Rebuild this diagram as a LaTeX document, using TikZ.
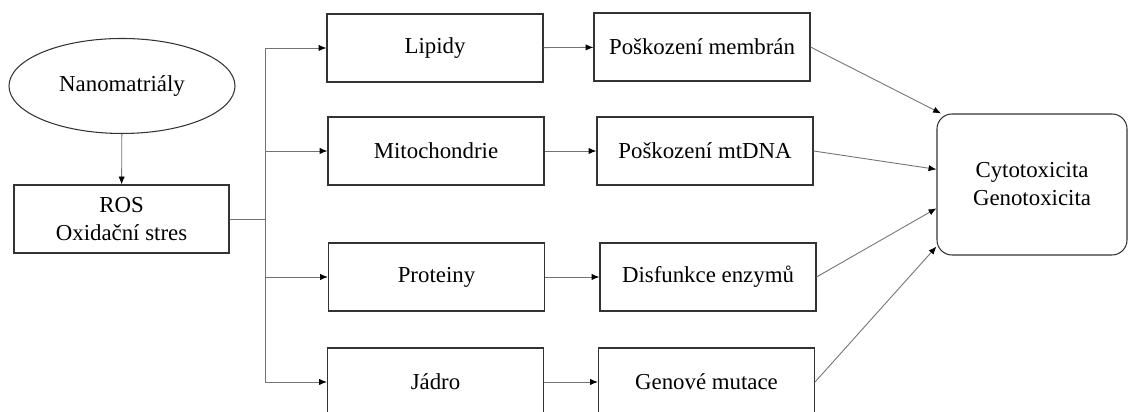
\documentclass[tikz,border=0pt]{standalone}
\usepackage{fontspec}
\setmainfont{Liberation Serif}
\usetikzlibrary{shapes.geometric,arrows.meta}

\begin{document}
\begin{tikzpicture}[every node/.style={font=\fontsize{13}{16}\selectfont},
    box/.style={rectangle, draw=black!80, line width=0.6pt, minimum width=4.32cm, minimum height=1.36cm, align=center},
    link/.style={draw=black!55, line width=0.5pt, -{Latex[black,length=4.5pt,width=3.6pt]}}]

    \useasboundingbox (0,0) rectangle (22.56,8.24);

    % Left part
    \node[ellipse, draw=black!80, line width=0.6pt, minimum width=4.52cm, minimum height=1.9cm, inner sep=0pt] (nano) at (2.44,6.52) {Nanomatriály};
    \node[box, minimum width=4.30cm] (ros) at (2.43,3.86) {ROS\\Oxidační stres};
    \coordinate (split) at (5.30,3.86);

    % Middle column
    \node[box] (lip) at (8.70,7.28) {Lipidy};
    \node[box] (mito) at (8.72,5.22) {Mitochondrie};
    \node[box] (prot) at (8.73,2.70) {Proteiny};
    \node[box] (jadro) at (8.71,0.60) {Jádro};

    % Right column
    \node[box] (membr) at (14.04,7.30) {Poškození membrán};
    \node[box] (mtdna) at (14.10,5.22) {Poškození mtDNA};
    \node[box] (enzym) at (14.16,2.70) {Disfunkce enzymů};
    \node[box] (mutace) at (14.13,0.60) {Genové mutace};

    % Result
    \node[rectangle, rounded corners=0.3cm, draw=black!80, line width=0.6pt, minimum width=3.80cm, minimum height=2.82cm, align=center] (cyto) at (20.64,4.55) {Cytotoxicita\\Genotoxicita};

    % Edges
    \draw[link] (nano) -- (ros);
    \draw[draw=black!55, line width=0.5pt] (ros) -- (split);
    \draw[link] (split) |- (lip);
    \draw[link] (split) |- (mito);
    \draw[link] (split) |- (prot);
    \draw[link] (split) |- (jadro);

    \draw[link] (lip) -- (membr);
    \draw[link] (mito) -- (mtdna);
    \draw[link] (prot) -- (enzym);
    \draw[link] (jadro) -- (mutace);

    \draw[link] (membr.east) -- (cyto.142);
    \draw[link] (mtdna.east) -- (cyto.171);
    \draw[link] (enzym.east) -- (cyto.194);
    \draw[link] (mutace.east) -- (cyto.213);

\end{tikzpicture}
\end{document}
